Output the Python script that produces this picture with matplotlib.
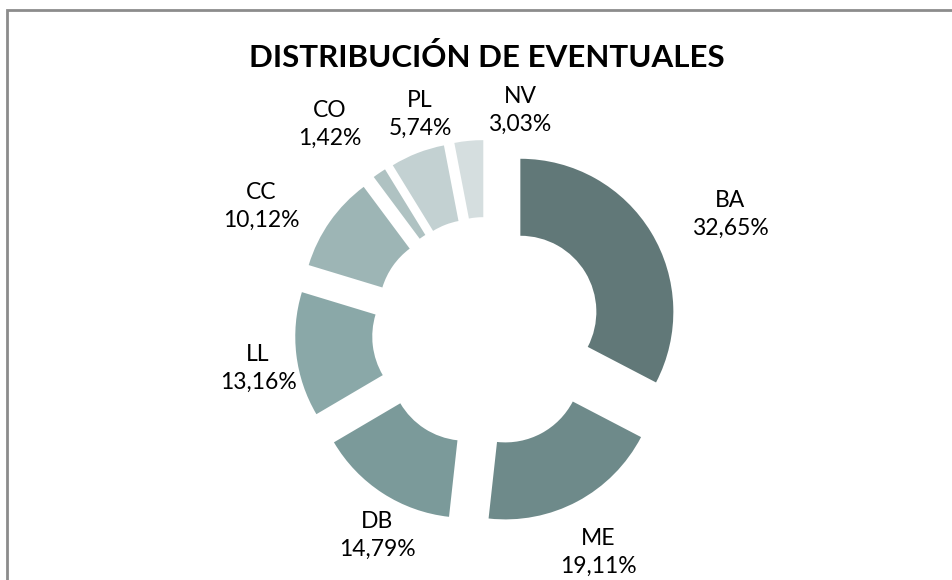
import matplotlib.pyplot as plt
from matplotlib.patches import Rectangle

# datos
categorias = ['BA', 'ME', 'DB', 'LL', 'CC', 'CO', 'PL', 'NV']
porcentajes = [32.65, 19.11, 14.79, 13.16, 10.12, 1.42, 5.74, 3.03]
etiquetas = ['32,65%', '19,11%', '14,79%', '13,16%', '10,12%', '1,42%', '5,74%', '3,03%']
colores = ['#617878', '#6e8a8a', '#7b9a9a', '#8aa8a8', '#9db5b5', '#afc2c2', '#c3d1d2', '#d5dedf']

# posicion de etiquetas (px, desde arriba)
pos_etiquetas = [(730, 214), (598, 552), (377, 535), (258, 368),
                 (261, 206), (330, 124), (420, 114), (520, 110)]

W, H = 953, 580
fig = plt.figure(figsize=(W / 100, H / 100), dpi=100)
ax = fig.add_axes([0, 0, 1, 1])

# marco
fig.patches.append(Rectangle((7 / W, -0.1), 1.2, 1.1 - 10 / H, transform=fig.transFigure,
                             fill=False, edgecolor='#8c8c8c', linewidth=2))

# explode va en unidades de datos (px)
ax.pie(porcentajes, colors=colores, startangle=90, counterclock=False,
       center=(487, H - 332), radius=153, explode=[39] * len(porcentajes),
       wedgeprops=dict(width=77, linewidth=0), frame=True)
ax.set_xlim(0, W)
ax.set_ylim(0, H)
ax.set_aspect('equal')
ax.axis('off')

fuente = 'Lato'
for cat, et, (x, y) in zip(categorias, etiquetas, pos_etiquetas):
    ax.text(x, H - y, f'{cat}\n{et}', ha='center', va='center', fontsize=16.5,
            family=fuente, linespacing=1.4, color='black')

ax.text(487, H - 57, 'DISTRIBUCIÓN DE EVENTUALES', ha='center', va='center',
        fontsize=22.5, fontweight='bold', family=fuente)

fig.savefig('out.png', dpi=100)
